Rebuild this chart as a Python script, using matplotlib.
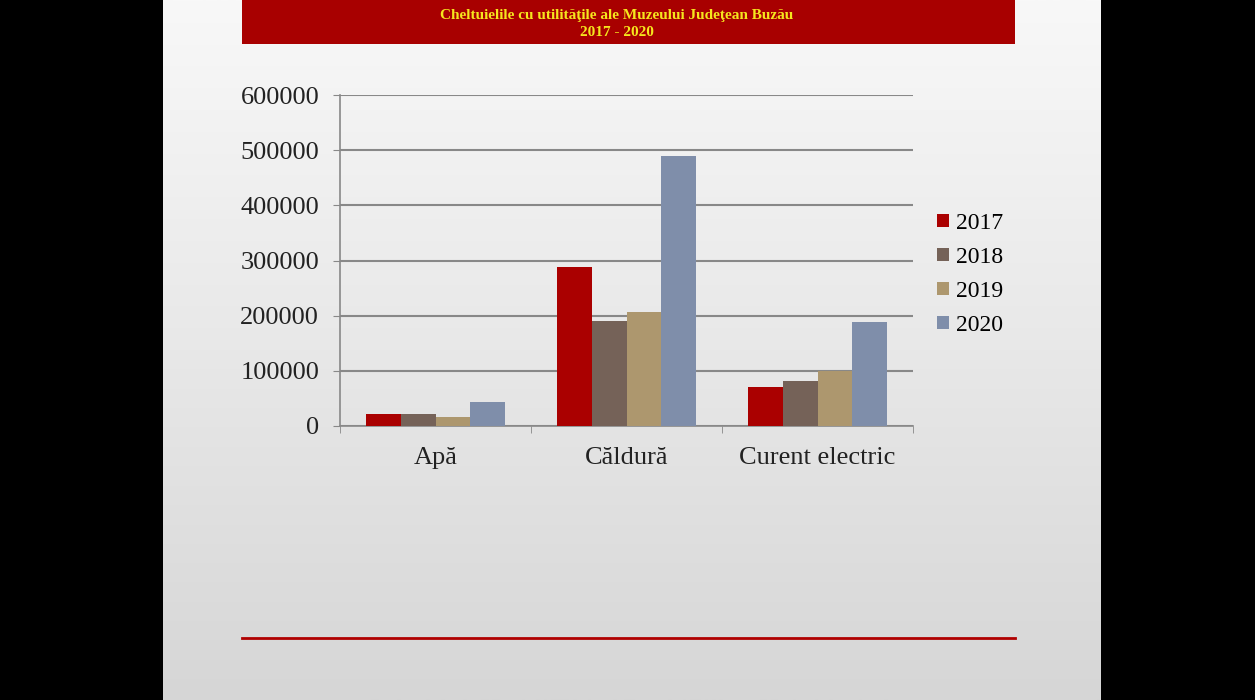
import numpy as np
import matplotlib
matplotlib.use('Agg')
import matplotlib.pyplot as plt
from matplotlib.patches import Rectangle
from matplotlib.lines import Line2D

# Data
categories = ['Apă', 'Căldură', 'Curent electric']
years = ['2017', '2018', '2019', '2020']
values_2017 = [22000, 288000, 71000]
values_2018 = [22000, 190000, 81000]
values_2019 = [16000, 207000, 100000]
values_2020 = [44000, 489000, 188000]
series = [values_2017, values_2018, values_2019, values_2020]
colors = ['#AA0000', '#756258', '#AD976E', '#7F8EAA']
y_ticks = [0, 100000, 200000, 300000, 400000, 500000, 600000]

title_line1 = 'Cheltuielile cu utilităţile ale Muzeului Judeţean Buzău'
title_line2 = '2017 - 2020'

plt.rcParams['font.family'] = ['Liberation Serif', 'DejaVu Serif']

fig = plt.figure(figsize=(12.55, 7.0), dpi=100)
fig.patch.set_facecolor('black')

# Slide background with a soft gradient
bg = fig.add_axes([163 / 1255, 0, (1100 - 163) / 1255, 1])
grad = np.linspace(0, 1, 256).reshape(-1, 1)
bg.imshow(grad, aspect='auto', cmap=matplotlib.colors.LinearSegmentedColormap.from_list(
    'slide', ['#F8F8F8', '#E8E8E8', '#D6D6D6']), extent=[0, 1, 1, 0])
bg.set_xlim(0, 1)
bg.set_ylim(1, 0)
bg.axis('off')

# Title banner
fig.patches.append(Rectangle((242 / 1255, 1 - 44 / 700), (1015 - 242) / 1255, 44 / 700,
                             transform=fig.transFigure, facecolor='#A80000',
                             edgecolor='none', zorder=2))
fig.text(617 / 1255, 1 - 15 / 700, title_line1, ha='center', va='center',
         color='#F5E61E', fontsize=11, fontweight='bold', zorder=3)
fig.text(617 / 1255, 1 - 32 / 700, title_line2, ha='center', va='center',
         color='#F5E61E', fontsize=11, fontweight='bold', zorder=3)

# Bottom red line
fig.lines.append(Line2D([242 / 1255, 1015 / 1255], [1 - 638 / 700, 1 - 638 / 700],
                        transform=fig.transFigure, color='#B00000', linewidth=2))

# Chart
ax = fig.add_axes([340 / 1255, 1 - 426 / 700, 573 / 1255, 331 / 700])
ax.patch.set_alpha(0)
x = np.arange(len(categories))
bar_w = 0.182
for i, (vals, year) in enumerate(zip(series, years)):
    ax.bar(x + (i - 1.5) * bar_w, vals, bar_w, color=colors[i], label=year, zorder=3)

ax.set_xlim(-0.5, len(categories) - 0.5)
ax.set_ylim(0, 600000)
ax.set_yticks(y_ticks)
ax.set_yticklabels([str(v) for v in y_ticks], fontsize=19, color='#222222')
ax.set_xticks(x)
ax.set_xticklabels(categories, fontsize=19, color='#222222')
ax.set_xticks(np.arange(len(categories) + 1) - 0.5, minor=True)
ax.tick_params(axis='x', which='major', length=0, pad=15)
ax.tick_params(axis='x', which='minor', length=5, color='#888888', direction='out')
ax.tick_params(axis='y', length=5, color='#888888', pad=10)
ax.grid(axis='y', color='#888888', linewidth=1.5, zorder=0)
for side in ['top', 'right']:
    ax.spines[side].set_visible(False)
ax.spines['left'].set_color('#888888')
ax.spines['bottom'].set_color('#888888')
ax.spines['left'].set_linewidth(1.2)
ax.spines['bottom'].set_linewidth(1.2)

ax.legend(loc='center left', bbox_to_anchor=(1.005, 0.458), frameon=False,
          fontsize=17, handlelength=0.5, handleheight=0.5, handletextpad=0.3,
          labelspacing=0.55)

fig.savefig('out.png', dpi=100, facecolor=fig.get_facecolor())
